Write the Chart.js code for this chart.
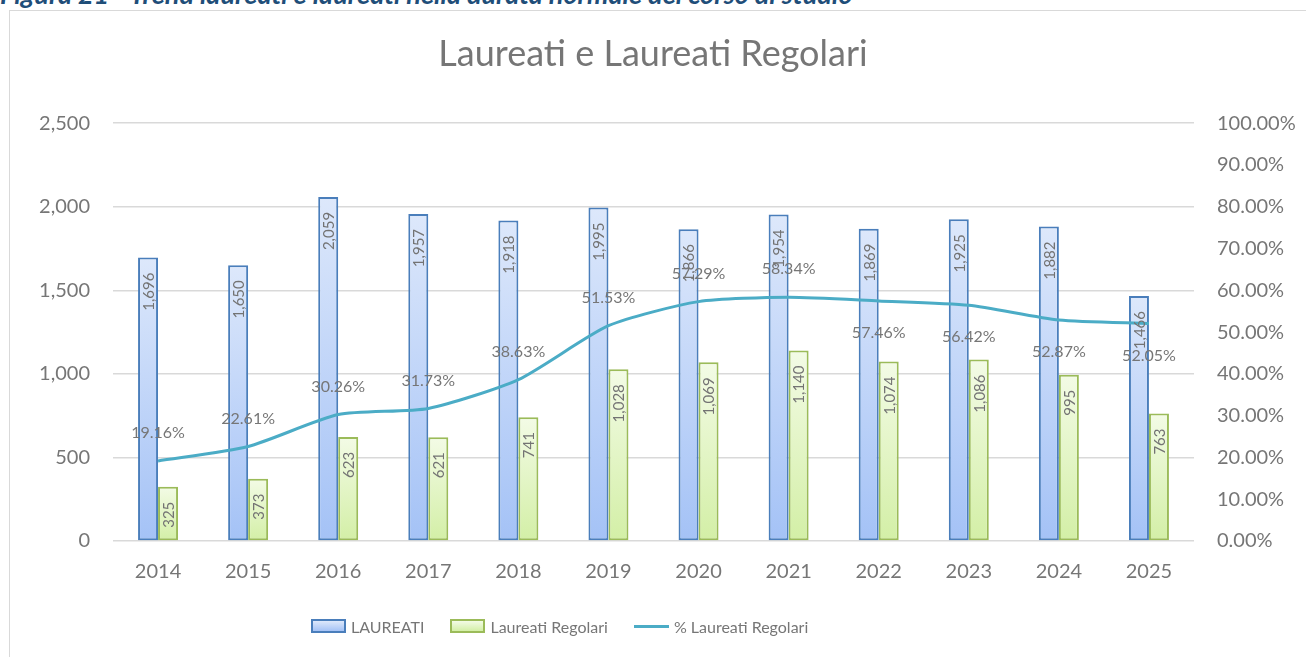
<!DOCTYPE html>
<html>
<head>
<meta charset="utf-8">
<script src="https://cdn.jsdelivr.net/npm/chart.js@4/dist/chart.umd.min.js"></script>
<style>
    html, body { margin: 0; padding: 0; background: #fff; overflow: hidden; }
    body { width: 1306px; height: 657px; position: relative; }
    .caption {
        position: absolute; left: 0; top: -23px;
        font-family: Lato, sans-serif; font-size: 27px; font-weight: bold; font-style: italic;
        color: #1f4e79; white-space: nowrap;
    }
    .frame {
        position: absolute; left: 9px; top: 10px; width: 1400px; height: 700px;
        border: 1.5px solid #d9d9d9;
    }
    .chart-box { position: absolute; left: 0; top: 0; width: 1306px; height: 657px; }
    .legend {
        position: absolute; left: 311px; top: 615px; height: 22px;
        display: flex; align-items: center;
        font-family: Lato, sans-serif; font-size: 16px; color: #767676;
    }
    .legend .item { display: flex; align-items: center; margin-right: 26px; }
    .legend .swatch { width: 35px; height: 14px; box-sizing: border-box; margin-right: 5px; }
    .legend .blue { border: 2px solid #4a7ebb; background: linear-gradient(#dde8fb, #a4c2f6); }
    .legend .green { border: 2px solid #9bbb59; background: linear-gradient(#f3fbe6, #d3efa6); }
    .legend .line { height: 3px; background: #4bacc6; }
</style>
</head>
<body>
<div class="caption">Figura 21 - Trend laureati e laureati nella durata normale del corso di studio</div>
<div class="frame"></div>
<div class="chart-box"><canvas id="myChart"></canvas></div>
<div class="legend">
    <div class="item"><span class="swatch blue"></span><span>LAUREATI</span></div>
    <div class="item"><span class="swatch green"></span><span>Laureati Regolari</span></div>
    <div class="item"><span class="swatch line"></span><span>% Laureati Regolari</span></div>
</div>

<script>
// Data
const years = ['2014','2015','2016','2017','2018','2019','2020','2021','2022','2023','2024','2025'];
const laureati = [1696, 1650, 2059, 1957, 1918, 1995, 1866, 1954, 1869, 1925, 1882, 1466];
const laureatiRegolari = [325, 373, 623, 621, 741, 1028, 1069, 1140, 1074, 1086, 995, 763];
const pctRegolari = [19.16, 22.61, 30.26, 31.73, 38.63, 51.53, 57.29, 58.34, 57.46, 56.42, 52.87, 52.05];
const pctLabelSide = ['above','above','above','above','above','above','above','above','below','below','below','below'];

const textGray = '#767676';
Chart.defaults.font.family = 'Lato, sans-serif';
Chart.defaults.color = textGray;

// per-bar vertical gradient
function barGradient(light, dark) {
    return ctx => {
        const chart = ctx.chart;
        const y = chart.scales.y;
        if (ctx.type !== 'data' || !y || !chart.chartArea) return dark;
        const top = y.getPixelForValue(ctx.raw);
        const bottom = y.getPixelForValue(0);
        if (!isFinite(top) || !isFinite(bottom) || bottom - top < 1) return dark;
        const g = chart.ctx.createLinearGradient(0, top, 0, bottom);
        g.addColorStop(0, light);
        g.addColorStop(1, dark);
        return g;
    };
}

// Data labels
const valueLabels = {
    id: 'valueLabels',
    afterDatasetsDraw(chart) {
        const c = chart.ctx;
        c.save();
        c.fillStyle = '#737373';
        c.font = '15px Lato, sans-serif';
        [0, 1].forEach(di => {
            const meta = chart.getDatasetMeta(di);
            meta.data.forEach((bar, i) => {
                const val = chart.data.datasets[di].data[i];
                c.save();
                c.translate(bar.x + 1, bar.y + 15);
                c.rotate(-Math.PI / 2);
                c.textAlign = 'right';
                c.textBaseline = 'middle';
                c.fillText(val.toLocaleString('en-US'), 0, 0);
                c.restore();
            });
        });
        c.font = '16px Lato, sans-serif';
        c.fillStyle = textGray;
        c.textAlign = 'center';
        c.textBaseline = 'middle';
        chart.getDatasetMeta(2).data.forEach((pt, i) => {
            const dy = pctLabelSide[i] === 'below' ? 32 : -28;
            c.fillText(pctRegolari[i].toFixed(2) + '%', pt.x, pt.y + dy);
        });
        c.restore();
    }
};

new Chart(document.getElementById('myChart'), {
    type: 'bar',
    data: {
        labels: years,
        datasets: [
            {
                label: 'LAUREATI',
                data: laureati,
                yAxisID: 'y',
                backgroundColor: barGradient('#dde8fb', '#a4c2f6'),
                borderColor: '#4a7ebb',
                borderWidth: 2,
                borderSkipped: false,
                categoryPercentage: 0.444,
                barPercentage: 1,
                order: 2
            },
            {
                label: 'Laureati Regolari',
                data: laureatiRegolari,
                yAxisID: 'y',
                backgroundColor: barGradient('#f3fbe6', '#d3efa6'),
                borderColor: '#9bbb59',
                borderWidth: 2,
                borderSkipped: false,
                categoryPercentage: 0.444,
                barPercentage: 1,
                order: 2
            },
            {
                type: 'line',
                label: '% Laureati Regolari',
                data: pctRegolari,
                yAxisID: 'y1',
                borderColor: '#4bacc6',
                backgroundColor: '#4bacc6',
                borderWidth: 3,
                pointRadius: 0,
                tension: 0.22,
                order: 1
            }
        ]
    },
    options: {
        responsive: true,
        maintainAspectRatio: false,
        animation: false,
        layout: { padding: { left: 0, right: 0, top: 0, bottom: 70 } },
        plugins: {
            title: {
                display: true,
                text: 'Laureati e Laureati Regolari',
                color: textGray,
                font: { size: 36, weight: 'normal' },
                padding: { top: 33, bottom: 47 }
            },
            legend: { display: false },
            tooltip: { enabled: false }
        },
        scales: {
            x: {
                grid: { display: false },
                border: { display: false },
                ticks: { font: { size: 20 }, color: textGray, padding: 11 },
                afterFit: s => { s.height = 46; }
            },
            y: {
                position: 'left',
                min: 0, max: 2500,
                ticks: {
                    stepSize: 500, padding: 23, font: { size: 20 }, color: textGray,
                    callback: v => v.toLocaleString('en-US')
                },
                grid: { color: '#d9d9d9', lineWidth: 1.5, drawTicks: false },
                border: { display: false },
                afterFit: s => { s.width = 113; }
            },
            y1: {
                position: 'right',
                min: 0, max: 100,
                ticks: {
                    stepSize: 10, padding: 23, font: { size: 20 }, color: textGray,
                    callback: v => v.toFixed(2) + '%'
                },
                grid: { display: false, drawTicks: false },
                border: { display: false },
                afterFit: s => { s.width = 112; }
            }
        }
    },
    plugins: [valueLabels]
});
</script>
</body>
</html>
